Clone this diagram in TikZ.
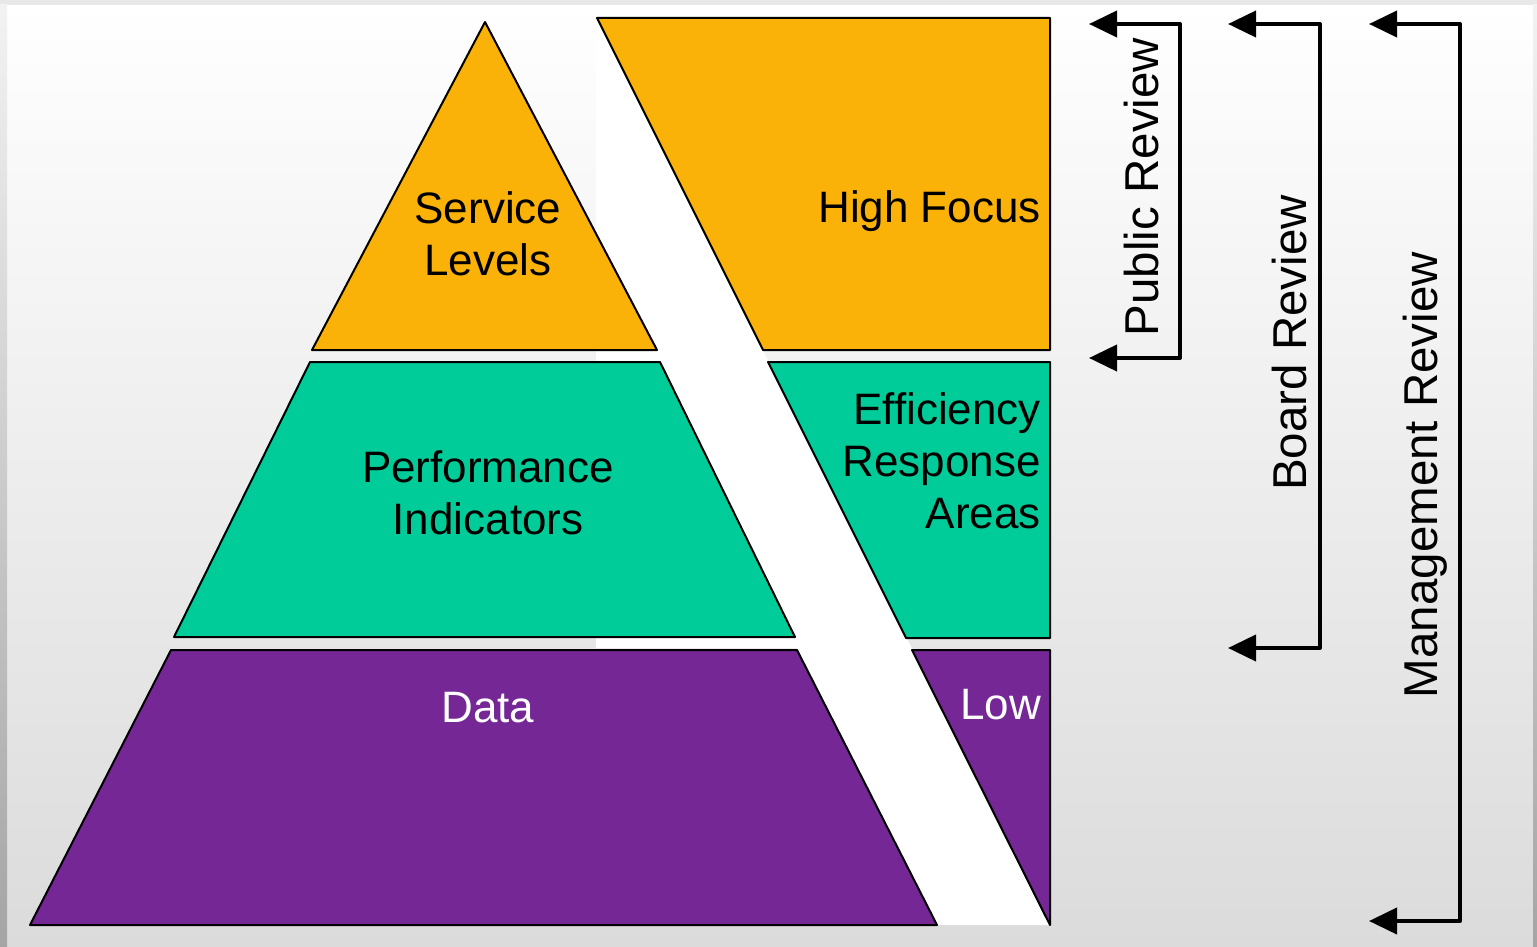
\documentclass[tikz,border=0pt]{standalone}
\usepackage{fontspec}
\setmainfont{Liberation Sans}
\usetikzlibrary{arrows.meta}
\definecolor{cYellow}{RGB}{250,178,8}
\definecolor{cGreen}{RGB}{0,204,153}
\definecolor{cPurple}{RGB}{116,39,149}
\definecolor{bgBottom}{RGB}{219,219,219}
\definecolor{edgeGray}{RGB}{165,165,165}
\begin{document}
\begin{tikzpicture}[x=1pt,y=-1pt,
  block/.style={draw=black, line width=2pt, line join=round},
  lbl/.style={inner sep=0pt, font=\fontsize{44}{52}\selectfont, align=center},
  rlbl/.style={inner sep=0pt, font=\fontsize{44}{52}\selectfont, align=right, anchor=east},
  vlbl/.style={inner sep=0pt, font=\fontsize{47.5}{56}\selectfont, rotate=90},
  bracket/.style={line width=4pt, line join=round,
    {Triangle[length=28pt,width=26pt]}-{Triangle[length=28pt,width=26pt]}}]
\useasboundingbox (0,0) rectangle (1537,947);
% background
\shade[top color=white, bottom color=bgBottom] (0,0) rectangle (1537,947);
\fill[gray!18] (0,0) rectangle (1537,5);
\shade[top color=white!95!black, bottom color=edgeGray] (0,5) rectangle (7,947);
\shade[top color=white!95!black, bottom color=edgeGray] (1533,5) rectangle (1537,947);
% white band
\fill[white] (596,18) -- (597,18) -- (1050,925) -- (937,925) -- (797,648) -- (596,648) -- cycle;
% pyramid
\draw[block, fill=cYellow] (485,22) -- (657,350) -- (312,350) -- cycle;
\draw[block, fill=cGreen] (310,362) -- (660,362) -- (795,637) -- (174,637) -- cycle;
\draw[block, fill=cPurple] (171,650) -- (797,650) -- (937,925) -- (30,925) -- cycle;
% right column
\draw[block, fill=cYellow] (597,18) -- (1050,18) -- (1050,350) -- (763,350) -- cycle;
\draw[block, fill=cGreen] (768,362) -- (1050,362) -- (1050,638) -- (906,638) -- cycle;
\draw[block, fill=cPurple] (912,650) -- (1050,650) -- (1050,925) -- cycle;
% labels
\node[lbl] (sl) at (488,234) {Service\\Levels};
\node[lbl] (pi) at (488,493) {Performance\\Indicators};
\node[lbl, text=white] (data) at (488,708) {Data};
\node[rlbl] (hf) at (1041,211) {High Focus};
\node[rlbl] (era) at (1041,461) {Efficiency\\Response\\Areas};
\node[rlbl, text=white] (low) at (1041,705) {Low};
% brackets
\coordinate (pT) at (1089,24);
\coordinate (pTc) at (1180,24);
\coordinate (pBc) at (1180,358);
\coordinate (pB) at (1089,358);
\draw[bracket] (pT) -- (pTc) -- (pBc) -- (pB);
\coordinate (bT) at (1228,24);
\coordinate (bTc) at (1320,24);
\coordinate (bBc) at (1320,648);
\coordinate (bB) at (1228,648);
\draw[bracket] (bT) -- (bTc) -- (bBc) -- (bB);
\coordinate (mT) at (1369,24);
\coordinate (mTc) at (1460,24);
\coordinate (mBc) at (1460,921);
\coordinate (mB) at (1369,921);
\draw[bracket] (mT) -- (mTc) -- (mBc) -- (mB);
\node[vlbl] (pr) at (1142,187) {Public Review};
\node[vlbl] (br) at (1290,343) {Board Review};
\node[vlbl] (mr) at (1425,475) {Management Review};
\end{tikzpicture}
\end{document}
